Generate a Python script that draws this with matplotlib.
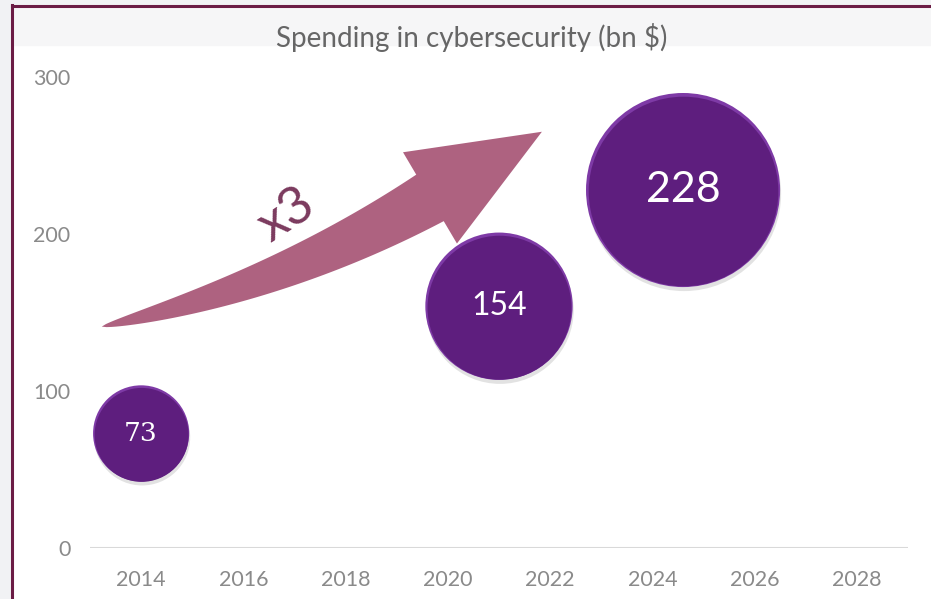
import matplotlib
matplotlib.use("Agg")
import matplotlib.pyplot as plt
import numpy as np
from matplotlib.patches import Polygon, Rectangle
from matplotlib.lines import Line2D
from matplotlib.transforms import offset_copy

plt.rcParams['font.family'] = ['Lato', 'DejaVu Sans']

# datos del grafico
years = [2014, 2021, 2024.6]
spending = [73, 154, 228]
year_ticks = [2014, 2016, 2018, 2020, 2022, 2024, 2026, 2028]
value_ticks = [0, 100, 200, 300]
title = "Spending in cybersecurity (bn $)"
growth_label = "x3"

fig = plt.figure(figsize=(9.31, 5.99), dpi=100)
fig.patch.set_facecolor('white')

# fondo y marco de la diapositiva
fig.patches.append(Rectangle((0, 0), 11 / 931, 1, transform=fig.transFigure,
                             color='#F1F2F4', zorder=0))
fig.patches.append(Rectangle((0, 1 - 5 / 599), 1, 5 / 599, transform=fig.transFigure,
                             color='#F1F2F4', zorder=0))
fig.patches.append(Rectangle((13 / 931, 1 - 45 / 599), 1, 39 / 599, transform=fig.transFigure,
                             color='#F6F6F7', zorder=0))
fig.lines.append(Line2D([12 / 931, 12 / 931], [0, 1 - 5 / 599], transform=fig.transFigure,
                        color='#6B1C45', lw=2.2))
fig.lines.append(Line2D([12 / 931, 1], [1 - 5.5 / 599, 1 - 5.5 / 599], transform=fig.transFigure,
                        color='#6B1C45', lw=2.2))

fig.text(472 / 931, 1 - 37 / 599, title, ha='center', va='center',
         fontsize=20, color='#666666')

ax = fig.add_axes([90 / 931, 51 / 599, 818 / 931, 471 / 599])
ax.set_facecolor('none')
ax.set_xlim(2013, 2029)
ax.set_ylim(0, 300)
ax.set_xticks(year_ticks)
ax.set_xticklabels([str(y) for y in year_ticks])
ax.set_yticks(value_ticks)
for s in ax.spines.values():
    s.set_visible(False)
ax.tick_params(length=0, labelcolor='#8A8A8A', labelsize=15.5)
ax.tick_params(axis='x', pad=16)
ax.tick_params(axis='y', pad=14)
ax.axhline(0, color='#D9D9D9', lw=1.5, zorder=1)

# flecha curva (x3)
def disp(x, y):
    return ax.transData.transform((x, y))

p0 = disp(2013.23, 141)
p1 = disp(2016.74, 167)
p2 = disp(2019.65, 223)
t = np.linspace(0, 1, 80)
curve = ((1 - t) ** 2)[:, None] * p0 + (2 * (1 - t) * t)[:, None] * p1 + (t ** 2)[:, None] * p2
deriv = (2 * (1 - t))[:, None] * (p1 - p0) + (2 * t)[:, None] * (p2 - p1)
d = deriv / np.linalg.norm(deriv, axis=1)[:, None]
n = np.column_stack([-d[:, 1], d[:, 0]])
w = 27 * t ** 0.65
upper = curve + n * w[:, None]
lower = curve - n * w[:, None]
barb_up = p2 + n[-1] * 53
barb_lo = p2 - n[-1] * 53
tip = p2 + d[-1] * 130
pts = np.vstack([upper, barb_up, tip, barb_lo, lower[::-1]])
pts = ax.transData.inverted().transform(pts)
ax.add_patch(Polygon(pts, closed=True, facecolor='#AE6280', edgecolor='none', zorder=2))

ax.text(2016.85, 212, growth_label, rotation=33, fontsize=38, color='#7B3A5E',
        ha='center', va='center', rotation_mode='anchor', zorder=3)

# burbujas
radius = [25 + 0.316 * v for v in spending]
sizes = np.array([(2 * r * 0.72) ** 2 for r in radius])
shadow = offset_copy(ax.transData, fig=fig, x=1, y=-4, units='dots')
inner = offset_copy(ax.transData, fig=fig, x=0.5, y=-1.5, units='dots')
ax.scatter(years, spending, s=sizes, color='#A0A0A0', alpha=0.3, lw=0,
           transform=shadow, zorder=4, clip_on=False)
ax.scatter(years, spending, s=sizes, color='#7E3AA6', lw=0, zorder=5, clip_on=False)
ax.scatter(years, spending, s=sizes * 0.955, color='#5E1E7E', lw=0,
           transform=inner, zorder=6, clip_on=False)

label_sizes = [19, 23, 31]
label_fonts = [['DejaVu Serif'], ['Lato', 'DejaVu Sans'], ['Lato', 'DejaVu Sans']]
for x, v, fs, ff in zip(years, spending, label_sizes, label_fonts):
    ax.text(x, v, str(v), ha='center', va='center', color='white', fontsize=fs,
            family=ff, zorder=7)

fig.savefig('out.png', dpi=100)
